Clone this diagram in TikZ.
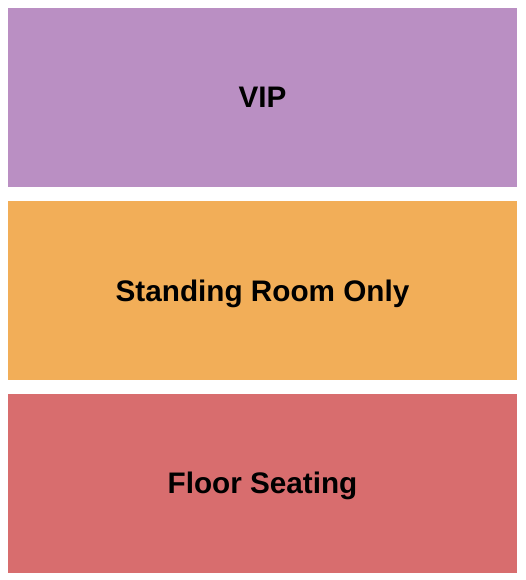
\documentclass[tikz,border=0pt]{standalone}
\usepackage{fontspec}
\setmainfont{Liberation Sans}
\usepackage{tikz}
\usetikzlibrary{positioning}
\definecolor{vipink}{RGB}{186,143,195}
\definecolor{standink}{RGB}{242,174,88}
\definecolor{floorink}{RGB}{216,109,110}

\begin{document}
\begin{tikzpicture}[x=1pt,y=1pt,
    zone/.style={minimum width=509pt,minimum height=179pt,inner sep=0pt,
                 text height=21pt,text depth=0pt,
                 font=\fontsize{29.7}{36}\selectfont\bfseries}]
    \useasboundingbox (0,0) rectangle (525,-580);
    % sections
    \node[zone,fill=vipink] (vip) at (262.5,-97.5) {VIP};
    \node[zone,fill=standink,below=14pt of vip] (standing) {Standing Room Only};
    \node[zone,fill=floorink,below=13pt of standing] (floor) {Floor Seating};
\end{tikzpicture}
\end{document}
